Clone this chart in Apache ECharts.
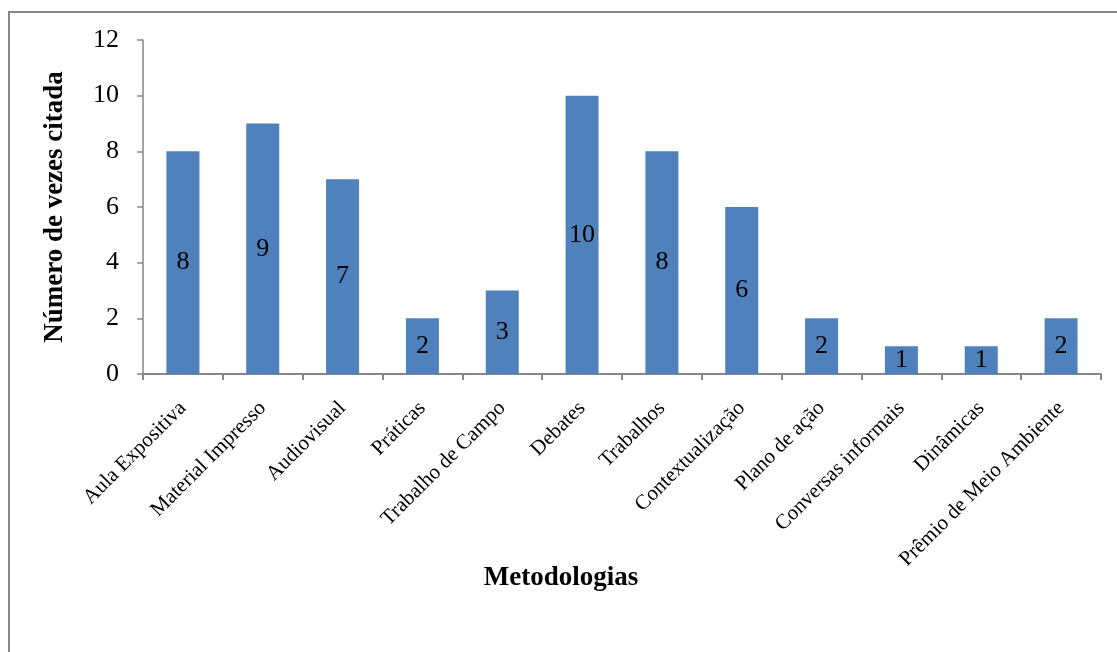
<!DOCTYPE html>
<html>
<head>
<meta charset="utf-8">
<script src="https://cdn.jsdelivr.net/npm/echarts@6/dist/echarts.min.js"></script>
<style>
  html, body { margin: 0; padding: 0; background: #fff; }
  #frame { position: absolute; left: 8px; top: 11px; width: 1109px; height: 641px;
           border-left: 2px solid #868686; border-top: 2px solid #868686; box-sizing: border-box; }
  #chart { position: absolute; left: 0; top: 0; width: 1117px; height: 652px; }
</style>
</head>
<body>
<div id="frame"></div>
<div id="chart"></div>
<script>
// Methodologies and how many times each was cited
const categories = [
  'Aula Expositiva', 'Material Impresso', 'Audiovisual', 'Práticas',
  'Trabalho de Campo', 'Debates', 'Trabalhos', 'Contextualização',
  'Plano de ação', 'Conversas informais', 'Dinâmicas', 'Prêmio de Meio Ambiente'
];
const citations = [8, 9, 7, 2, 3, 10, 8, 6, 2, 1, 1, 2];
const yTicks = [0, 2, 4, 6, 8, 10, 12];
const xTitle = 'Metodologias';
const yTitle = 'Número de vezes citada';

const serif = '"Liberation Serif", "DejaVu Serif", serif';
const axisGray = '#868686';

const chart = echarts.init(document.getElementById('chart'));
chart.setOption({
  animation: false,
  grid: { left: 143, top: 40, right: 16, bottom: 278, containLabel: false },
  graphic: [{
    type: 'text',
    x: 561,
    y: 565,
    style: {
      text: xTitle,
      textAlign: 'center',
      textVerticalAlign: 'top',
      fontFamily: serif,
      fontSize: 27,
      fontWeight: 'bold',
      fill: '#000'
    }
  }],
  xAxis: {
    type: 'category',
    data: categories,
    axisLine: { lineStyle: { color: axisGray, width: 2 } },
    axisTick: { show: true, alignWithLabel: false, length: 6, lineStyle: { color: axisGray, width: 2 } },
    axisLabel: { rotate: 45, margin: 31, fontFamily: serif, fontSize: 21, color: '#000', interval: 0 }
  },
  yAxis: {
    type: 'value',
    min: yTicks[0],
    max: yTicks[yTicks.length - 1],
    interval: 2,
    name: yTitle,
    nameLocation: 'middle',
    nameGap: 74,
    nameRotate: 90,
    nameTextStyle: { fontFamily: serif, fontSize: 27, fontWeight: 'bold', color: '#000' },
    splitLine: { show: false },
    axisLine: { show: true, lineStyle: { color: axisGray, width: 1.5 } },
    axisTick: { show: true, length: 6, lineStyle: { color: axisGray, width: 1.5 } },
    axisLabel: { margin: 24, fontFamily: serif, fontSize: 26, color: '#000' }
  },
  series: [{
    type: 'bar',
    data: citations,
    barWidth: 33,
    itemStyle: { color: '#4F81BD' },
    label: {
      show: true,
      position: 'inside',
      fontFamily: serif,
      fontSize: 26,
      color: '#000'
    }
  }]
});
</script>
</body>
</html>
